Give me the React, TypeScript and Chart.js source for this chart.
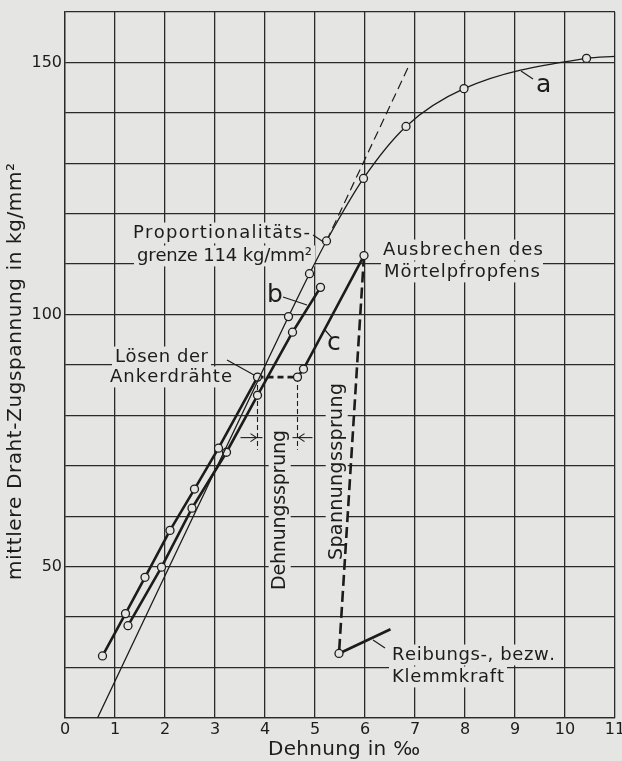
import { useEffect, useRef } from 'react';
import { Chart, registerables } from 'chart.js';

Chart.register(...registerables);

// ---- data ----
const X_MIN = 0;
const X_MAX = 11;
const Y_MIN = 20;
const Y_MAX = 160;
const Y_TICK_LABELS = [50, 100, 150];

// curve a (thin): straight part from the axis, then bending over
const A_X = [0.65, 4.47, 4.89, 5.23, 5.97, 6.82, 7.98, 10.43, 11.0];
const A_Y = [20, 99.6, 108.1, 114.6, 127.0, 137.3, 144.8, 150.8, 151.2];

// proportional-line extension of a (thin dashed)
const P_X = [5.23, 6.9];
const P_Y = [114.6, 149.8];

// curve b (thick)
const B_X = [1.26, 1.93, 2.54, 3.23, 3.85, 4.55, 5.11];
const B_Y = [38.3, 49.9, 61.6, 72.7, 84.0, 96.5, 105.4];

// curve c (thick): jump at 87.6, break-out at 111.7, drop, friction
const C_X = [0.75, 1.21, 1.6, 2.1, 2.59, 3.07, 3.85, 4.65, 4.77, 5.98, 5.48, 6.51];
const C_Y = [32.3, 40.7, 47.9, 57.2, 65.4, 73.5, 87.6, 87.6, 89.2, 111.7, 32.8, 37.6];
const C_STRAIN_JUMP = 6; // segment index (3.85 -> 4.65)
const C_STRESS_JUMP = 9; // segment index (5.98 -> 5.48)

// dimension lines of the strain jump
const DIM_X = [3.85, 4.65];
const DIM_Y = [87.6, 73.2];
const DIM_ARROW_Y = 75.6;

// ---- style ----
const PAPER = '#e5e5e3';
const INK = '#1c1c1c';
const GRID = '#2a2a2a';
const FONT = '"DejaVu Sans", sans-serif';

const pts = (xs: number[], ys: number[]) => xs.map((x, i) => ({ x, y: ys[i] }));

function spacedText(ctx: CanvasRenderingContext2D, text: string, x: number, y: number, width: number) {
  const chars = Array.from(text);
  const ws = chars.map((c) => ctx.measureText(c).width);
  const total = ws.reduce((s, w) => s + w, 0);
  const gap = chars.length > 1 ? (width - total) / (chars.length - 1) : 0;
  let cx = x;
  for (let i = 0; i < chars.length; i++) {
    ctx.fillText(chars[i], cx, y);
    cx += ws[i] + gap;
  }
}

function label(
  ctx: CanvasRenderingContext2D,
  text: string,
  x: number,
  y: number,
  width: number,
  size: number,
  rot = 0,
  mask = true
) {
  ctx.save();
  ctx.translate(x, y);
  if (rot) ctx.rotate(rot);
  ctx.font = `${size}px ${FONT}`;
  if (mask) {
    ctx.fillStyle = PAPER;
    ctx.fillRect(-3, -size * 0.86, width + 6, size * 1.16);
  }
  ctx.fillStyle = INK;
  ctx.textBaseline = 'alphabetic';
  ctx.textAlign = 'left';
  spacedText(ctx, text, 0, 0, width);
  ctx.restore();
}

function line(ctx: CanvasRenderingContext2D, x1: number, y1: number, x2: number, y2: number, w = 1.2) {
  ctx.save();
  ctx.strokeStyle = INK;
  ctx.lineWidth = w;
  ctx.beginPath();
  ctx.moveTo(x1, y1);
  ctx.lineTo(x2, y2);
  ctx.stroke();
  ctx.restore();
}

const paperPlugin = {
  id: 'paper',
  beforeDraw(chart: any) {
    const { ctx, width, height } = chart;
    ctx.save();
    ctx.fillStyle = PAPER;
    ctx.fillRect(0, 0, width, height);
    ctx.restore();
  },
};

const notesPlugin = {
  id: 'notes',
  beforeDatasetsDraw(chart: any) {
    const ctx: CanvasRenderingContext2D = chart.ctx;
    const R = -Math.PI / 2;
    label(ctx, 'Proportionalitäts-', 133, 238, 177, 18);
    label(ctx, 'grenze 114 kg/mm²', 137, 261, 175, 18);
    label(ctx, 'Ausbrechen des', 383, 255, 160, 18);
    label(ctx, 'Mörtelpfropfens', 384, 277, 156, 18);
    label(ctx, 'Lösen der', 115, 362, 93, 18);
    label(ctx, 'Ankerdrähte', 110, 382, 122, 18);
    label(ctx, 'Reibungs-, bezw.', 392, 660, 163, 18);
    label(ctx, 'Klemmkraft', 392, 682, 112, 18);
    label(ctx, 'Dehnungssprung', 285, 590, 160, 19, R);
    label(ctx, 'Spannungssprung', 342, 560, 177, 19, R);
    // axis titles
    label(ctx, 'Dehnung in ‰', 268, 755, 152, 20, 0, false);
    label(ctx, 'mittlere Draht-Zugspannung in kg/mm²', 21, 580, 417, 20, R, false);
    // curve letters
    ctx.save();
    ctx.fillStyle = INK;
    ctx.font = `25px ${FONT}`;
    ctx.textBaseline = 'alphabetic';
    ctx.fillText('a', 536, 92);
    ctx.fillText('b', 267, 302);
    ctx.fillText('c', 327, 350);
    ctx.restore();
  },
  afterDatasetsDraw(chart: any) {
    const ctx: CanvasRenderingContext2D = chart.ctx;
    const xs = chart.scales.x;
    const ys = chart.scales.y;
    // pointers
    line(ctx, 313, 235, xs.getPixelForValue(A_X[3]) - 3, ys.getPixelForValue(A_Y[3]) + 1);
    line(ctx, 227, 360, 254, 375);
    line(ctx, 283, 297, 307, 305);
    line(ctx, 325, 330, 332, 338);
    line(ctx, 521, 71, 533, 79);
    line(ctx, 373, 640, 385, 648);
    // dimension arrows
    const yA = ys.getPixelForValue(DIM_ARROW_Y);
    const xL = xs.getPixelForValue(DIM_X[0]);
    const xR = xs.getPixelForValue(DIM_X[1]);
    line(ctx, xL - 17, yA, xL + 5, yA, 1.1);
    line(ctx, xL - 7, yA - 4, xL - 1, yA, 1.1);
    line(ctx, xL - 7, yA + 4, xL - 1, yA, 1.1);
    line(ctx, xR + 15, yA, xR - 5, yA, 1.1);
    line(ctx, xR + 7, yA - 4, xR + 1, yA, 1.1);
    line(ctx, xR + 7, yA + 4, xR + 1, yA, 1.1);
  },
};

export default function App() {
  const ref = useRef<HTMLCanvasElement | null>(null);

  useEffect(() => {
    if (!ref.current) return;
    const marker = {
      pointBackgroundColor: PAPER,
      pointBorderColor: INK,
      pointBorderWidth: 1.3,
      pointHoverRadius: 4,
    };
    const chart = new Chart(ref.current, {
      type: 'scatter',
      data: {
        datasets: [
          {
            label: 'a',
            data: pts(A_X, A_Y),
            showLine: true,
            borderColor: INK,
            borderWidth: 1.3,
            cubicInterpolationMode: 'monotone',
            pointRadius: (c: any) => (c.dataIndex === 0 || c.dataIndex === A_X.length - 1 ? 0 : 4),
            ...marker,
          },
          {
            label: 'b',
            data: pts(B_X, B_Y),
            showLine: true,
            borderColor: INK,
            borderWidth: 2.6,
            pointRadius: 4,
            ...marker,
          },
          {
            label: 'c',
            data: pts(C_X, C_Y),
            showLine: true,
            borderColor: INK,
            borderWidth: 2.6,
            pointRadius: (c: any) => (c.dataIndex === C_X.length - 1 ? 0 : 4),
            segment: {
              borderDash: (s: any) =>
                s.p0DataIndex === C_STRAIN_JUMP ? [6, 4] : s.p0DataIndex === C_STRESS_JUMP ? [11, 5] : undefined,
            },
            ...marker,
          },
          {
            label: 'prop',
            data: pts(P_X, P_Y),
            showLine: true,
            borderColor: INK,
            borderWidth: 1.2,
            borderDash: [9, 5],
            pointRadius: 0,
          },
          ...DIM_X.map((x, i) => ({
            label: 'dim' + i,
            data: DIM_Y.map((y) => ({ x, y })),
            showLine: true,
            borderColor: INK,
            borderWidth: 1.1,
            borderDash: [5, 3],
            pointRadius: 0,
          })),
        ],
      },
      options: {
        responsive: false,
        maintainAspectRatio: false,
        animation: false,
        devicePixelRatio: 1,
        events: [],
        layout: { padding: { top: 12, right: 7, left: 0, bottom: 0 } },
        plugins: { legend: { display: false }, tooltip: { enabled: false }, title: { display: false } },
        scales: {
          x: {
            type: 'linear',
            min: X_MIN,
            max: X_MAX,
            ticks: {
              stepSize: 1,
              autoSkip: false,
              maxRotation: 0,
              padding: 2,
              color: INK,
              font: { family: FONT, size: 16 },
            },
            grid: { color: GRID, lineWidth: 1.3, drawTicks: false },
            border: { display: true, color: GRID, width: 1.3 },
            afterFit: (s: any) => {
              s.height = 43;
              s.paddingLeft = 0;
              s.paddingRight = 0;
            },
          },
          y: {
            type: 'linear',
            min: Y_MIN,
            max: Y_MAX,
            ticks: {
              stepSize: 10,
              autoSkip: false,
              padding: 3,
              color: INK,
              font: { family: FONT, size: 16 },
              callback: (v: any) => (Y_TICK_LABELS.includes(Number(v)) ? String(v) : ''),
            },
            grid: { color: GRID, lineWidth: 1.3, drawTicks: false },
            border: { display: true, color: GRID, width: 1.3 },
            afterFit: (s: any) => {
              s.width = 65;
              s.paddingTop = 0;
              s.paddingBottom = 0;
            },
          },
        },
      } as any,
      plugins: [paperPlugin, notesPlugin],
    });
    return () => chart.destroy();
  }, []);

  return (
    <div style={{ position: 'absolute', left: 0, top: 0, width: 622, height: 761, background: PAPER }}>
      <canvas ref={ref} width={622} height={761} style={{ display: 'block' }} />
    </div>
  );
}
